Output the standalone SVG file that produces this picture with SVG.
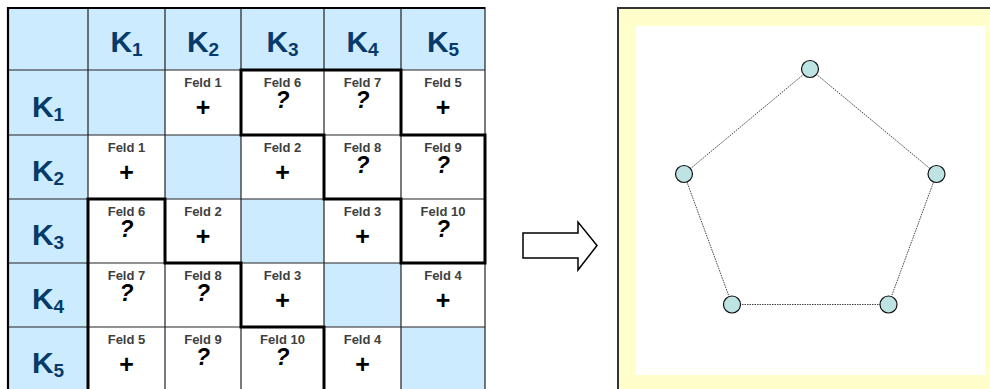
<svg xmlns="http://www.w3.org/2000/svg" width="990" height="389" viewBox="0 0 990 389">
<style>
.hdr{fill:#CCEBFF}
.wc{fill:#FFFFFF}
.k{font-family:"Liberation Sans",Arial,sans-serif;font-weight:bold;font-size:30px;fill:#063A6B;text-anchor:middle}
.sub{font-size:19px}
.fl{font-family:"Liberation Sans",Arial,sans-serif;font-weight:bold;font-size:13px;fill:#404040;text-anchor:middle}
.pl{font-family:"Liberation Sans",Arial,sans-serif;font-weight:bold;font-size:25px;fill:#000;text-anchor:middle}
.q{font-family:"Liberation Sans",Arial,sans-serif;font-weight:bold;font-style:italic;font-size:23px;fill:#000;text-anchor:middle}
.thin{stroke:#222;stroke-width:1.2;fill:none}
.thick{stroke:#000;stroke-width:3;fill:none;stroke-linecap:square}
.node{fill:#BDE3E3;stroke:#111;stroke-width:1.2}
.edge{stroke:#444;stroke-width:1;stroke-dasharray:1.5 1;fill:none}
</style>

<g id="table">
  <rect x="8" y="7" width="477" height="384" class="wc"/>
  <rect x="8" y="7" width="477" height="63" class="hdr"/>
  <rect x="8" y="70" width="80" height="321" class="hdr"/>
  <rect x="88" y="70" width="77" height="65" class="hdr"/>
  <rect x="165" y="135" width="76" height="64" class="hdr"/>
  <rect x="241" y="199" width="83" height="64" class="hdr"/>
  <rect x="324" y="263" width="77" height="64" class="hdr"/>
  <rect x="401" y="327" width="84" height="64" class="hdr"/>
  <path class="thin" d="M88 7V391M165 7V391M241 7V391M324 7V391M401 7V391M485 7V391M8 70H485M8 135H485M8 199H485M8 263H485M8 327H485"/>
  <path d="M8 391V8H485" stroke="#000" stroke-width="2.2" fill="none"/>
  <path class="thick" d="M241 70V135H324V199H401V263H485V135H401V70Z"/>
  <path class="thick" d="M88 391V199H165V263H241V327H324V391"/>
</g>

<g id="headers">
  <text class="k" x="126.5" y="52">K<tspan class="sub" dy="4">1</tspan></text>
  <text class="k" x="203" y="52">K<tspan class="sub" dy="4">2</tspan></text>
  <text class="k" x="282.5" y="52">K<tspan class="sub" dy="4">3</tspan></text>
  <text class="k" x="362.5" y="52">K<tspan class="sub" dy="4">4</tspan></text>
  <text class="k" x="443" y="52">K<tspan class="sub" dy="4">5</tspan></text>
  <text class="k" x="48" y="117">K<tspan class="sub" dy="4">1</tspan></text>
  <text class="k" x="48" y="181">K<tspan class="sub" dy="4">2</tspan></text>
  <text class="k" x="48" y="245">K<tspan class="sub" dy="4">3</tspan></text>
  <text class="k" x="48" y="309">K<tspan class="sub" dy="4">4</tspan></text>
  <text class="k" x="48" y="373">K<tspan class="sub" dy="4">5</tspan></text>
</g>

<g id="cells">
  <text class="fl" x="203" y="86.5">Feld 1</text><text class="pl" x="203" y="115.5">+</text>
  <text class="fl" x="282.5" y="86.5">Feld 6</text><text class="q" x="282.5" y="108">?</text>
  <text class="fl" x="362.5" y="86.5">Feld 7</text><text class="q" x="362.5" y="108">?</text>
  <text class="fl" x="443" y="86.5">Feld 5</text><text class="pl" x="443" y="115.5">+</text>
  <text class="fl" x="126.5" y="151.5">Feld 1</text><text class="pl" x="126.5" y="180.5">+</text>
  <text class="fl" x="282.5" y="151.5">Feld 2</text><text class="pl" x="282.5" y="180.5">+</text>
  <text class="fl" x="362.5" y="151.5">Feld 8</text><text class="q" x="362.5" y="173">?</text>
  <text class="fl" x="443" y="151.5">Feld 9</text><text class="q" x="443" y="173">?</text>
  <text class="fl" x="126.5" y="215.5">Feld 6</text><text class="q" x="126.5" y="237">?</text>
  <text class="fl" x="203" y="215.5">Feld 2</text><text class="pl" x="203" y="244.5">+</text>
  <text class="fl" x="362.5" y="215.5">Feld 3</text><text class="pl" x="362.5" y="244.5">+</text>
  <text class="fl" x="443" y="215.5">Feld 10</text><text class="q" x="443" y="237">?</text>
  <text class="fl" x="126.5" y="279.5">Feld 7</text><text class="q" x="126.5" y="301">?</text>
  <text class="fl" x="203" y="279.5">Feld 8</text><text class="q" x="203" y="301">?</text>
  <text class="fl" x="282.5" y="279.5">Feld 3</text><text class="pl" x="282.5" y="308.5">+</text>
  <text class="fl" x="443" y="279.5">Feld 4</text><text class="pl" x="443" y="308.5">+</text>
  <text class="fl" x="126.5" y="343.5">Feld 5</text><text class="pl" x="126.5" y="372.5">+</text>
  <text class="fl" x="203" y="343.5">Feld 9</text><text class="q" x="203" y="365">?</text>
  <text class="fl" x="282.5" y="343.5">Feld 10</text><text class="q" x="282.5" y="365">?</text>
  <text class="fl" x="362.5" y="343.5">Feld 4</text><text class="pl" x="362.5" y="372.5">+</text>
</g>

<g id="arrow">
  <path d="M523 233H578V222L597 245.5L578 270V258H523Z" fill="#fff" stroke="#000" stroke-width="1.5" stroke-linejoin="miter"/>
</g>

<g id="panel">
  <rect x="618" y="8" width="372" height="381" fill="#FFFFCC"/>
  <rect x="636" y="26" width="349" height="349" fill="#FFFFFF"/>
  <path d="M618 389V8H990" stroke="#333" stroke-width="2" fill="none"/>
</g>

<g id="connectors">
  <line class="edge" x1="810" y1="69" x2="684" y2="174"/>
  <line class="edge" x1="810" y1="69" x2="936.5" y2="174"/>
  <line class="edge" x1="684" y1="174" x2="732" y2="304.5"/>
  <line class="edge" x1="936.5" y1="174" x2="888.5" y2="304.5"/>
  <line class="edge" x1="732" y1="304.5" x2="888.5" y2="304.5"/>
</g>

<g id="n1"><circle class="node" cx="810" cy="69" r="8.5"/></g>
<g id="n2"><circle class="node" cx="684" cy="174" r="8.5"/></g>
<g id="n3"><circle class="node" cx="936.5" cy="174" r="8.5"/></g>
<g id="n4"><circle class="node" cx="732" cy="304.5" r="8.5"/></g>
<g id="n5"><circle class="node" cx="888.5" cy="304.5" r="8.5"/></g>
</svg>
